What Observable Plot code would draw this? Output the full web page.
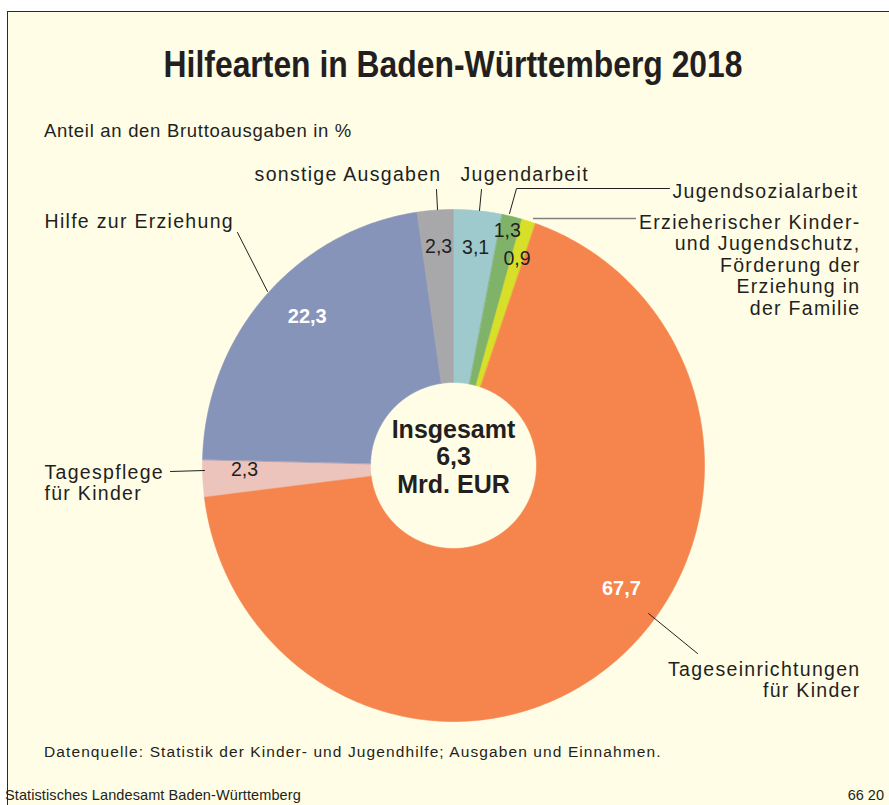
<!DOCTYPE html>
<html>
<head>
<meta charset="utf-8">
<script src="https://cdn.jsdelivr.net/npm/d3@7"></script>
<script src="https://cdn.jsdelivr.net/npm/@observablehq/plot@0.6"></script>
<style>
  html, body { margin: 0; padding: 0; background: #ffffff; }
  #page { position: relative; width: 889px; height: 805px; overflow: hidden;
          font-family: "Liberation Sans", Arial, sans-serif; color: #231f20; }
  #frame { position: absolute; left: 7px; top: 11px; width: 900px; height: 800px;
           background: #fffde6; border-left: 1.5px solid #2a2a2a; border-top: 1.5px solid #2a2a2a; }
  #title { position: absolute; left: 0; width: 906px; top: 44px; text-align: center; }
  #title span { display: inline-block; transform: scaleX(0.885); transform-origin: 50% 50%;
           font-family: "Liberation Sans", Arial, sans-serif;
           font-weight: bold; font-size: 36px; line-height: 42px; color: #231f20; white-space: nowrap; }
  #subtitle { position: absolute; left: 44px; top: 120px; font-size: 18.5px; letter-spacing: 0.7px; line-height: 22px; }
  #chart { position: absolute; left: 0; top: 140px; }
  #source { position: absolute; left: 44px; top: 742px; font-size: 15.5px; letter-spacing: 1.1px; line-height: 20px; }
  #org { position: absolute; left: 5px; top: 786px; font-size: 14.5px; letter-spacing: 0.1px; line-height: 18px; }
  #code { position: absolute; right: 5px; top: 786px; font-size: 14.5px; line-height: 18px; }
</style>
</head>
<body>
<div id="page">
  <div id="frame"></div>
  <div id="title"><span>Hilfearten in Baden-Württemberg 2018</span></div>
  <div id="subtitle">Anteil an den Bruttoausgaben in %</div>
  <div id="chart"></div>
  <div id="source">Datenquelle: Statistik der Kinder- und Jugendhilfe; Ausgaben und Einnahmen.</div>
  <div id="org">Statistisches Landesamt Baden-Württemberg</div>
  <div id="code">66 20</div>
</div>
<script>
// ---------- data ----------
const categories = [
  "Jugendarbeit",
  "Jugendsozialarbeit",
  "Erzieherischer Kinder- und Jugendschutz, Förderung der Erziehung in der Familie",
  "Tageseinrichtungen für Kinder",
  "Tagespflege für Kinder",
  "Hilfe zur Erziehung",
  "sonstige Ausgaben"
];
const values = [3.1, 1.3, 0.9, 67.7, 2.3, 22.3, 2.3];
const centerLines = ["Insgesamt", "6,3", "Mrd. EUR"];

// ---------- styles ----------
const colors = ["#9ec9cd", "#80b26a", "#d8df28", "#f5844d", "#edc4bc", "#8794b9", "#a8a8aa"];
const labelColors = ["#231f20", "#231f20", "#231f20", "#ffffff", "#231f20", "#ffffff", "#231f20"];
const labelBold = [false, false, false, true, false, true, false];

// ---------- layout (pixels) ----------
const W = 889, H = 600;              // svg size
const CX = 453, CY = 465, TOP = 140; // pie centre in page coordinates, svg top offset
const RX = 251, RY = 256, r0 = 83;   // outer radii / inner radius
// value label placement: polar (degrees clockwise from 12 o'clock, radius)
const labelPolar = [[5.8, 219], [12.9, 241], [17.1, 216], [126.2, 208], [268.8, 209], [315.6, 209], [356.1, 219]];
const rel = ([px, py]) => [px - CX, CY - py];

// name labels (page coords of anchor / cap-top of first line)
const nameLabels = [
  {text: "Jugendarbeit", x: 460, y: 165, anchor: "start"},
  {text: "Jugendsozialarbeit", x: 672, y: 182, anchor: "start"},
  {text: "Hilfe zur Erziehung", x: 44, y: 212, anchor: "start"},
  {text: "Tagespflege\nfür Kinder", x: 44, y: 463, anchor: "start"},
  {text: "sonstige Ausgaben", x: 441, y: 165, anchor: "end"},
  {text: "Erzieherischer Kinder-\nund Jugendschutz,\nFörderung der\nErziehung in\nder Familie", x: 860, y: 213, anchor: "end"},
  {text: "Tageseinrichtungen\nfür Kinder", x: 860, y: 660, anchor: "end"}
];
const leaders = [
  {id: 0, pts: [[436, 189], [437, 209]], gray: false},
  {id: 1, pts: [[481, 189], [479, 210]], gray: false},
  {id: 2, pts: [[669, 188], [516, 188], [509, 213]], gray: false},
  {id: 3, pts: [[635, 218], [533, 218]], gray: true},
  {id: 4, pts: [[237, 232], [267, 291]], gray: false},
  {id: 5, pts: [[170, 471], [204, 470]], gray: false},
  {id: 6, pts: [[697, 653], [648, 613]], gray: false}
];

// ---------- geometry ----------
const arcs = d3.pie().sort(null).value(d => d)(values);
const slicePts = [];
arcs.forEach((a, i) => {
  const n = Math.max(4, Math.ceil((a.endAngle - a.startAngle) / (Math.PI / 360)));
  for (let k = 0; k <= n; k++) {
    const t = a.startAngle + (a.endAngle - a.startAngle) * k / n;
    slicePts.push({cat: categories[i], x: RX * Math.sin(t), y: RY * Math.cos(t)});
  }
  for (let k = n; k >= 0; k--) {
    const t = a.startAngle + (a.endAngle - a.startAngle) * k / n;
    slicePts.push({cat: categories[i], x: r0 * Math.sin(t), y: r0 * Math.cos(t)});
  }
});

const valueRows = values.map((v, i) => {
  const th = labelPolar[i][0] * Math.PI / 180, rr = labelPolar[i][1];
  return {text: v.toFixed(1).replace(".", ","), x: rr * Math.sin(th), y: rr * Math.cos(th),
          fill: labelColors[i], bold: labelBold[i]};
});

const nameRows = nameLabels.map(d => { const [x, y] = rel([d.x, d.y]); return {...d, x, y}; });
const leaderRows = [];
leaders.forEach(l => l.pts.forEach(p => { const [x, y] = rel(p); leaderRows.push({id: l.id, gray: l.gray, x, y}); }));

const noSpacing = (index, scales, values, dims, ctx, next) => {
  const g = next(index, scales, values, dims, ctx);
  g.setAttribute("letter-spacing", "0");
  return g;
};

const plot = Plot.plot({
  width: W, height: H, margin: 0,
  x: {domain: [-CX, W - CX], axis: null},
  y: {domain: [-(H - (CY - TOP)), CY - TOP], axis: null},
  color: {domain: categories, range: colors},
  style: {background: "transparent", overflow: "visible",
          fontFamily: "'Liberation Sans', Arial, sans-serif", letterSpacing: "1.3px", color: "#231f20"},
  marks: [
    Plot.line(slicePts, {x: "x", y: "y", z: "cat", fill: "cat", stroke: "cat", strokeWidth: 0.6, curve: "linear-closed"}),
    Plot.line(leaderRows, {filter: d => !d.gray, x: "x", y: "y", z: "id", stroke: "#231f20", strokeWidth: 1}),
    Plot.line(leaderRows, {filter: d => d.gray, x: "x", y: "y", z: "id", stroke: "#808080", strokeWidth: 1.3}),
    Plot.text(valueRows, {filter: d => !d.bold, x: "x", y: "y", text: "text", fill: "fill", fontSize: 19.5, render: noSpacing}),
    Plot.text(valueRows, {filter: d => d.bold, x: "x", y: "y", text: "text", fill: "fill", fontSize: 20, fontWeight: "bold", render: noSpacing}),
    Plot.text(nameRows, {filter: d => d.anchor === "start", x: "x", y: "y", text: "text", textAnchor: "start", lineAnchor: "top", lineHeight: 1.1, fontSize: 19.5, fill: "#231f20"}),
    Plot.text(nameRows, {filter: d => d.anchor === "end", x: "x", y: "y", text: "text", textAnchor: "end", lineAnchor: "top", lineHeight: 1.1, fontSize: 19.5, fill: "#231f20"}),
    Plot.text([centerLines.join("\n")], {x: () => 0, y: () => CY - 456, text: d => d, fontSize: 25, fontWeight: "bold", lineHeight: 1.1, fill: "#231f20", render: noSpacing})
  ]
});
document.getElementById("chart").appendChild(plot);
</script>
</body>
</html>
